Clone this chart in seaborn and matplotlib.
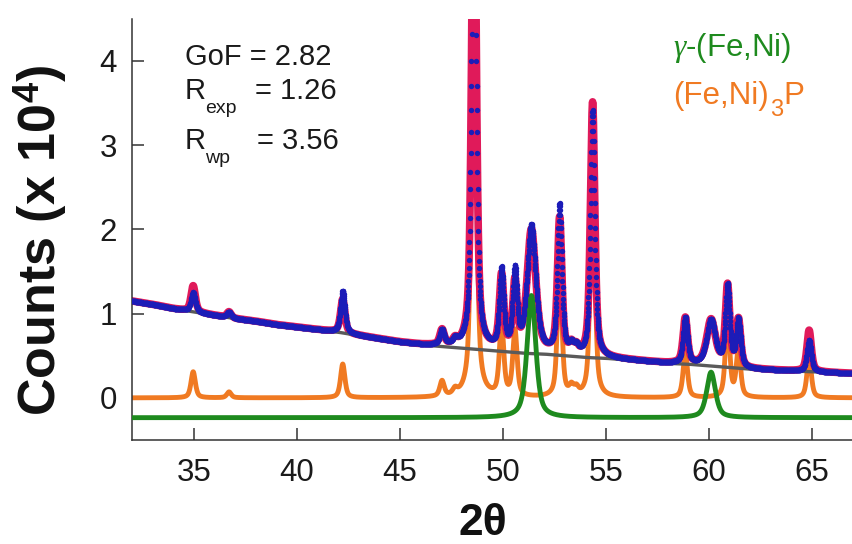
import numpy as np
import pandas as pd
import matplotlib
matplotlib.use("Agg")
import matplotlib.pyplot as plt
import seaborn as sns

# ---------------- data ----------------
# background (gray), read at every degree 32..67  (x 10^4 counts)
bg_x = [32, 33, 34, 35, 36, 37, 38, 39, 40, 41, 42, 43, 44, 45, 46, 47, 48, 49,
        50, 51, 52, 53, 54, 55, 56, 57, 58, 59, 60, 61, 62, 63, 64, 65, 66, 67]
bg_y = [1.15, 1.11, 1.06, 1.02, 0.98, 0.94, 0.91, 0.87, 0.84, 0.81, 0.78, 0.74,
        0.70, 0.66, 0.63, 0.61, 0.59, 0.57, 0.55, 0.53, 0.52, 0.50, 0.48, 0.47,
        0.45, 0.43, 0.41, 0.40, 0.38, 0.36, 0.34, 0.33, 0.32, 0.31, 0.30, 0.29]

# (Fe,Ni)3P phase reflections (orange)
p3_pos = [34.97, 36.71, 42.23, 47.05, 47.68, 48.60, 49.94, 50.59, 52.76,
          53.33, 53.57, 54.36, 58.86, 60.91, 61.44, 64.87]
p3_h = [0.31, 0.07, 0.40, 0.18, 0.06, 6.50, 0.86, 0.78, 1.60,
        0.10, 0.08, 3.02, 0.54, 0.95, 0.56, 0.49]
p3_fwhm = 0.25

# gamma-(Fe,Ni) phase reflections (green)
gam_pos = [51.39, 60.11]
gam_h = [1.45, 0.54]
gam_fwhm = 0.50
gam_offset = -0.235

# observed minus calculated differences at selected reflections
dev_pos = [34.97, 42.23, 49.94, 50.59, 51.39, 52.76, 54.36, 64.87]
dev_h = [-0.08, 0.10, 0.07, 0.14, 0.05, 0.16, -0.10, -0.12]

stats_names = ["GoF", "R", "R"]
stats_subs = ["", "exp", "wp"]
stats_vals = ["2.82", "1.26", "3.56"]

gamma_label = "$\\gamma$-(Fe,Ni)"
phosphide_parts = ["(Fe,Ni)", "3", "P"]

x_ticks = [35, 40, 45, 50, 55, 60, 65]
y_ticks = [0, 1, 2, 3, 4]

# ---------------- profiles ----------------
two_theta = np.arange(32.0, 67.0001, 0.01)


def pseudo_voigt(x, pos, h, fwhm, eta=0.6):
    hw = fwhm / 2.0
    lor = hw ** 2 / ((x - pos) ** 2 + hw ** 2)
    gau = np.exp(-np.log(2) * ((x - pos) / hw) ** 2)
    return h * (eta * lor + (1 - eta) * gau)


bg = np.interp(two_theta, bg_x, bg_y)
phase3 = sum(pseudo_voigt(two_theta, p, h, p3_fwhm) for p, h in zip(p3_pos, p3_h))
gamma = sum(pseudo_voigt(two_theta, p, h, gam_fwhm) for p, h in zip(gam_pos, gam_h))
calc = bg + phase3 + gamma
obs = calc + sum(pseudo_voigt(two_theta, p, h, p3_fwhm) for p, h in zip(dev_pos, dev_h))

df = pd.DataFrame({"tt": two_theta, "bg": bg, "p3": phase3,
                   "gam": gamma + gam_offset, "calc": calc, "obs": obs})

# ---------------- styling ----------------
sns.set_style("ticks")
plt.rcParams["font.family"] = ["Liberation Sans", "DejaVu Sans"]
plt.rcParams["mathtext.fontset"] = "custom"
plt.rcParams["mathtext.rm"] = "Liberation Sans"
plt.rcParams["mathtext.it"] = "Liberation Serif:italic"
plt.rcParams["mathtext.bf"] = "Liberation Sans:bold"

RED = "#e01a5a"
BLUE = "#1c1cb8"
ORANGE = "#f07a22"
GREEN = "#1e8a1e"
GRAY = "#5a5a5a"

W, H = 853, 544
fig = plt.figure(figsize=(W / 100, H / 100), dpi=100)
fig.patch.set_facecolor("white")
ax_l, ax_r, ax_b, ax_t = 132, 853, 440, 18.8
ax = fig.add_axes([ax_l / W, 1 - ax_b / H, (ax_r - ax_l) / W, (ax_b - ax_t) / H])

sns.lineplot(data=df, x="tt", y="calc", ax=ax, color=RED, linewidth=5.5,
             estimator=None, sort=False, zorder=2)
sns.lineplot(data=df, x="tt", y="bg", ax=ax, color=GRAY, linewidth=2.4,
             estimator=None, sort=False, zorder=3)
sns.lineplot(data=df, x="tt", y="p3", ax=ax, color=ORANGE, linewidth=3.5,
             estimator=None, sort=False, zorder=1.5)
sns.lineplot(data=df, x="tt", y="gam", ax=ax, color=GREEN, linewidth=3.5,
             estimator=None, sort=False, zorder=4)
sns.scatterplot(data=df, x="tt", y="obs", ax=ax, color=BLUE, s=15, linewidth=0,
                edgecolor=None, zorder=5)

ax.set_xlim(32, 67)
ax.set_ylim(-0.5, 4.5)
ax.set_xticks(x_ticks)
ax.set_yticks(y_ticks)
ax.tick_params(axis="both", direction="in", length=8.5, width=1.1,
               color="#333333", labelsize=22.5, labelcolor="#1a1a1a")
ax.tick_params(axis="x", pad=13)
ax.tick_params(axis="y", pad=11)
for side in ["top", "right"]:
    ax.spines[side].set_visible(False)
for side in ["left", "bottom"]:
    ax.spines[side].set_linewidth(1.1)
    ax.spines[side].set_color("#333333")

ax.set_xlabel("2θ", fontsize=32, fontweight="bold", color="#111111")
ax.set_ylabel("Counts (x 10$^{\\mathbf{4}}$)", fontsize=37.5, fontweight="bold",
              color="#111111")
ax.xaxis.set_label_coords((483 - ax_l) / (ax_r - ax_l), -(503 - ax_b) / (ax_b - ax_t))
ax.yaxis.set_label_coords(-(ax_l - 70) / (ax_r - ax_l), (ax_b - 240) / (ax_b - ax_t))


def axf(px, py):
    return ((px - ax_l) / (ax_r - ax_l), (ax_b - py) / (ax_b - ax_t))


# fit statistics
base_y = [65, 99, 149]
eq_x = [252, 255, 257]
for name, sub, val, by, ex in zip(stats_names, stats_subs, stats_vals, base_y, eq_x):
    if sub:
        ax.text(*axf(185, by), name, transform=ax.transAxes, fontsize=21,
                va="baseline", ha="left", color="#1a1a1a")
        ax.text(*axf(205, by + 14), sub, transform=ax.transAxes, fontsize=14,
                va="baseline", ha="left", color="#1a1a1a")
        ax.text(*axf(ex, by), "= " + val, transform=ax.transAxes, fontsize=21,
                va="baseline", ha="left", color="#1a1a1a")
    else:
        ax.text(*axf(185, by), name + " = " + val, transform=ax.transAxes,
                fontsize=21, va="baseline", ha="left", color="#1a1a1a")

# phase labels
ax.text(*axf(673, 56), gamma_label, transform=ax.transAxes, fontsize=22.5,
        va="baseline", ha="left", color=GREEN)
renderer = fig.canvas.get_renderer()
t1 = ax.text(*axf(673, 104), phosphide_parts[0], transform=ax.transAxes,
             fontsize=22.5, va="baseline", ha="left", color=ORANGE)
x_end = t1.get_window_extent(renderer).x1  # display pixels from left
t2 = ax.text(*axf(x_end + 1, 116), phosphide_parts[1], transform=ax.transAxes,
             fontsize=17, va="baseline", ha="left", color=ORANGE)
x_end2 = t2.get_window_extent(renderer).x1
ax.text(*axf(x_end2 + 1, 104), phosphide_parts[2], transform=ax.transAxes,
        fontsize=22.5, va="baseline", ha="left", color=ORANGE)

fig.savefig("out.png", dpi=100, facecolor="white")
